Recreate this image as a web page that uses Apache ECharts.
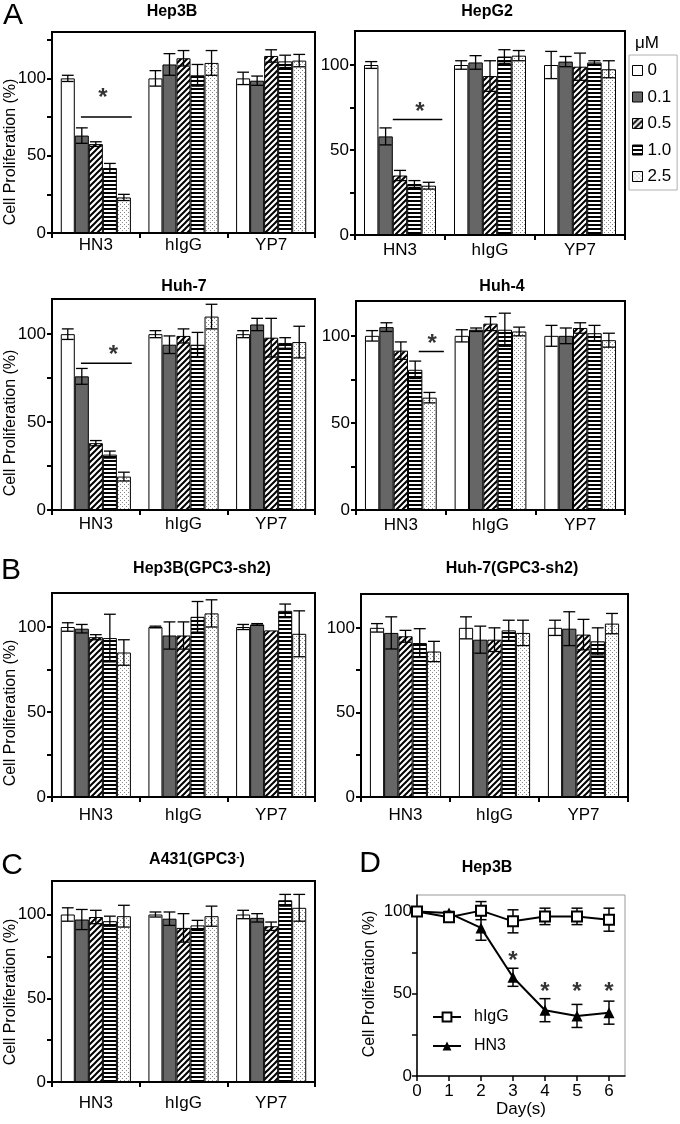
<!DOCTYPE html>
<html><head><meta charset="utf-8">
<script src="https://cdn.jsdelivr.net/npm/echarts@6/dist/echarts.min.js"></script>
<style>html,body{margin:0;padding:0;background:#fff}#c{width:680px;height:1124px}</style>
</head><body><div id="c"></div>
<script>
// ---------- DATA ----------
const categories = ['HN3', 'hIgG', 'YP7'];
const doses = ['0', '0.1', '0.5', '1.0', '2.5'];
// rows: HN3, hIgG, YP7 ; columns: doses
const hep3bMean = [[100, 63, 57.5, 42, 23], [100, 109, 113, 102, 110], [100, 98.5, 114.5, 111, 111.5]];
const hep3bErr  = [[2, 5, 1.5, 3, 2], [5, 7, 5, 7, 8], [4, 3, 4, 4, 4]];
const hepg2Mean = [[100, 58, 35, 30, 29], [100, 101.5, 93.5, 105, 105.5], [100, 102, 99, 101.5, 97.5]];
const hepg2Err  = [[2, 5, 3, 2, 2], [2.5, 4, 9, 4, 3], [8, 3, 8, 1, 5]];
const huh7Mean  = [[100, 76, 38, 31.5, 19], [100, 94, 99, 94, 110], [100, 105.5, 98, 95, 95.5]];
const huh7Err   = [[3, 4.5, 1.5, 2, 2.5], [2, 5, 4, 7, 7], [2, 3.5, 11, 3, 9]];
const huh4Mean  = [[100, 105, 91.5, 80.5, 64.5], [100, 103.5, 107, 103.5, 102.5], [100, 100, 104.5, 101.5, 97.5]];
const huh4Err   = [[3, 2.5, 5, 5, 3], [3.5, 1, 4, 9.5, 2.5], [6, 4.5, 3, 4.5, 4]];
const hep3bShMean = [[100, 99, 94, 93.5, 85], [100, 95, 95, 106, 108], [100, 101.5, 98, 109.5, 96]];
const hep3bShErr  = [[2.5, 2.5, 1.5, 14, 7.5], [0.5, 8, 8, 9, 8], [1.5, 0.5, 0, 4, 13.5]];
const huh7ShMean  = [[100, 97, 95, 91, 86], [100, 93, 93, 98.5, 97], [100, 99.5, 96, 92, 102.5]];
const huh7ShErr   = [[2.5, 9.5, 3.5, 8.5, 6], [6.5, 8, 7, 6, 7.5], [4.5, 10, 9, 8, 6]];
const a431Mean = [[100, 97, 98.5, 96, 99], [100, 97.5, 92, 93.5, 99], [100, 98, 93, 108.5, 104]];
const a431Err  = [[4, 6, 4, 3, 6.5], [1.5, 4, 8.5, 3, 6], [2.5, 2.5, 2.5, 3.5, 8]];
// significance annotations (category units 0..3 on x, % on y): [x1, x2, y, starX, starY]
const sigHep3b = [0.33, 0.91, 75, 0.58, 90];
const sigHepg2 = [0.42, 0.97, 68, 0.72, 75];
const sigHuh7  = [0.33, 0.91, 83.5, 0.70, 91];
const sigHuh4  = [0.70, 0.98, 91, 0.85, 98];
// panel D
const days = [0, 1, 2, 3, 4, 5, 6];
const higgMean = [100, 96.5, 100.5, 94, 97, 97, 95];
const higgErr  = [1, 3, 5.5, 7, 5, 5, 7];
const hn3Mean  = [100, 99, 90, 60, 40, 36.5, 38.5];
const hn3Err   = [1, 1, 7.5, 5.5, 7, 7, 7];
const dStarDays = [3, 4, 5, 6];
const dStarY = [73, 54, 54, 54];
const yTicks = [0, 25, 50, 75, 100, 125];
const yLabels = [0, 50, 100];

// ---------- STYLE ----------
const FONT = '"Liberation Sans", Arial, Helvetica, sans-serif';
function pattern(kind) {
  const c = document.createElement('canvas');
  const ctx = c.getContext('2d');
  if (kind === 'diag') {
    c.width = 6; c.height = 6;
    ctx.fillStyle = '#fff'; ctx.fillRect(0, 0, 6, 6);
    ctx.strokeStyle = '#000'; ctx.lineWidth = 2;
    ctx.beginPath();
    ctx.moveTo(-1, 7); ctx.lineTo(7, -1);
    ctx.moveTo(-1, 1); ctx.lineTo(1, -1);
    ctx.moveTo(5, 7); ctx.lineTo(7, 5);
    ctx.stroke();
  } else if (kind === 'horiz') {
    c.width = 4; c.height = 4;
    ctx.fillStyle = '#fff'; ctx.fillRect(0, 0, 4, 4);
    ctx.fillStyle = '#000'; ctx.fillRect(0, 0, 4, 2);
  } else {
    c.width = 4; c.height = 4;
    ctx.fillStyle = '#fff'; ctx.fillRect(0, 0, 4, 4);
    ctx.fillStyle = '#888'; ctx.fillRect(0, 0, 1, 1); ctx.fillRect(2, 2, 1, 1);
  }
  return { image: c, repeat: 'repeat' };
}
const fills = ['#ffffff', '#666666', pattern('diag'), pattern('horiz'), pattern('dots')];

const panels = [
  { mean: hep3bMean, err: hep3bErr, sig: sigHep3b, max: 130, l: 52, t: 32, w: 263, h: 201, lm: 4 },
  { mean: hepg2Mean, err: hepg2Err, sig: sigHepg2, max: 120, l: 355, t: 31, w: 270, h: 204, lm: 7 },
  { mean: huh7Mean, err: huh7Err, sig: sigHuh7, max: 120, l: 52, t: 299, w: 263, h: 211, lm: 6 },
  { mean: huh4Mean, err: huh4Err, sig: sigHuh4, max: 120, l: 356, t: 301, w: 269, h: 209, lm: 7 },
  { mean: hep3bShMean, err: hep3bShErr, sig: null, max: 120, l: 52, t: 593, w: 263, h: 204, lm: 10 },
  { mean: huh7ShMean, err: huh7ShErr, sig: null, max: 120, l: 361, t: 594, w: 267, h: 203, lm: 10 },
  { mean: a431Mean, err: a431Err, sig: null, max: 120, l: 52, t: 881, w: 263, h: 201, lm: 13 }
];

function errRender(params, api) {
  const c = api.value(0), s = api.value(1), m = api.value(2), e = api.value(3);
  const cw = api.size([1, 0])[0];
  const bw = cw * 0.8 / 5;
  const cx = api.coord([c, m])[0] + (s - 2) * bw;
  const yt = api.coord([c, m + e])[1], yb = api.coord([c, m - e])[1];
  const hw = bw * 0.42;
  const st = { stroke: '#000', lineWidth: 1.3 };
  return { type: 'group', children: [
    { type: 'line', shape: { x1: cx, y1: yt, x2: cx, y2: yb }, style: st },
    { type: 'line', shape: { x1: cx - hw, y1: yt, x2: cx + hw, y2: yt }, style: st },
    { type: 'line', shape: { x1: cx - hw, y1: yb, x2: cx + hw, y2: yb }, style: st }
  ]};
}
function errRenderD(params, api) {
  const x = api.value(0), m = api.value(1), e = api.value(2);
  const cx = api.coord([x, m])[0];
  const yt = api.coord([x, m + e])[1], yb = api.coord([x, m - e])[1];
  const hw = 5.5;
  const st = { stroke: '#000', lineWidth: 1.5 };
  return { type: 'group', children: [
    { type: 'line', shape: { x1: cx, y1: yt, x2: cx, y2: yb }, style: st },
    { type: 'line', shape: { x1: cx - hw, y1: yt, x2: cx + hw, y2: yt }, style: st },
    { type: 'line', shape: { x1: cx - hw, y1: yb, x2: cx + hw, y2: yb }, style: st }
  ]};
}

const grid = [], xAxis = [], yAxis = [], series = [];
const black = { color: '#000', width: 2 };
panels.forEach((p, i) => {
  grid.push({ left: p.l, top: p.t, width: p.w, height: p.h, show: true, borderColor: '#000', borderWidth: 2, backgroundColor: 'transparent' });
  xAxis.push({ type: 'category', gridIndex: i, data: categories,
    axisLine: { show: true, lineStyle: black },
    axisTick: { show: true, length: 5, lineStyle: black },
    axisLabel: { margin: p.lm, fontSize: 17, color: '#000', fontFamily: FONT } });
  xAxis.push({ type: 'value', gridIndex: i, min: 0, max: 3, show: false });
  yAxis.push({ type: 'value', gridIndex: i, min: 0, max: p.max, interval: 25,
    axisLine: { show: true, lineStyle: black },
    axisTick: { show: true, length: 5, lineStyle: black, customValues: yTicks.filter(v => v <= p.max) },
    axisLabel: { show: true, margin: 6, fontSize: 17, color: '#000', fontFamily: FONT, customValues: yLabels,
      formatter: v => (v % 50 === 0 ? String(v) : '') },
    splitLine: { show: false } });
  doses.forEach((d, s) => {
    series.push({ type: 'bar', name: d, xAxisIndex: 2 * i, yAxisIndex: i,
      data: p.mean.map(r => r[s]), barGap: '0%', barCategoryGap: '20%',
      itemStyle: { color: fills[s], borderColor: '#000', borderWidth: 1 },
      emphasis: { disabled: true }, z: 2 });
  });
  const ed = [];
  p.mean.forEach((row, c) => row.forEach((m, s) => { if (p.err[c][s] > 0) ed.push([c, s, m, p.err[c][s]]); }));
  series.push({ type: 'custom', xAxisIndex: 2 * i, yAxisIndex: i, renderItem: errRender,
    encode: { x: 0, y: 2 }, data: ed, z: 5, silent: true });
  if (p.sig) {
    series.push({ type: 'line', xAxisIndex: 2 * i + 1, yAxisIndex: i, symbol: 'none',
      data: [[p.sig[0], p.sig[2]], [p.sig[1], p.sig[2]]],
      lineStyle: { color: '#000', width: 1.5 }, z: 6, silent: true });
    series.push({ type: 'scatter', xAxisIndex: 2 * i + 1, yAxisIndex: i, symbolSize: 1,
      itemStyle: { color: 'rgba(0,0,0,0)' }, data: [[p.sig[3], p.sig[4]]],
      label: { show: true, position: 'inside', formatter: '*', fontSize: 24, fontWeight: 'bold',
        color: '#000', fontFamily: FONT, offset: [0, 5] }, z: 6, silent: true });
  }
});

// Panel D
const gi = panels.length;
grid.push({ left: 417, top: 895, width: 208, height: 181, show: true, borderColor: '#999', borderWidth: 1 });
xAxis.push({ type: 'value', gridIndex: gi, min: 0, max: 6.5, interval: 1,
  name: 'Day(s)', nameLocation: 'middle', nameGap: 25,
  nameTextStyle: { fontSize: 17, color: '#000', fontFamily: FONT },
  axisLine: { show: true, lineStyle: { color: '#000', width: 1.5 } },
  axisTick: { show: true, length: 5, customValues: days, lineStyle: { color: '#000', width: 1.5 } },
  axisLabel: { customValues: days, margin: 7, fontSize: 17, color: '#000', fontFamily: FONT },
  splitLine: { show: false } });
yAxis.push({ type: 'value', gridIndex: gi, min: 0, max: 110, interval: 25,
  axisLine: { show: true, lineStyle: { color: '#000', width: 1.5 } },
  axisTick: { show: true, length: 5, customValues: [0, 25, 50, 75, 100], lineStyle: { color: '#000', width: 1.5 } },
  axisLabel: { customValues: yLabels, margin: 5, fontSize: 17, color: '#000', fontFamily: FONT,
    formatter: v => (v % 50 === 0 ? String(v) : '') },
  splitLine: { show: false } });
const dx = xAxis.length - 1;
series.push({ type: 'custom', xAxisIndex: dx, yAxisIndex: gi, renderItem: errRenderD, encode: { x: 0, y: 1 },
  data: days.map((d, k) => [d, higgMean[k], higgErr[k]]).concat(days.map((d, k) => [d, hn3Mean[k], hn3Err[k]])),
  z: 2, silent: true });
series.push({ type: 'line', name: 'hIgG', xAxisIndex: dx, yAxisIndex: gi,
  data: days.map((d, k) => [d, higgMean[k]]), symbol: 'rect', symbolSize: 10,
  itemStyle: { color: '#fff', borderColor: '#000', borderWidth: 2 },
  lineStyle: { color: '#000', width: 2 }, z: 4 });
series.push({ type: 'line', name: 'HN3', xAxisIndex: dx, yAxisIndex: gi,
  data: days.map((d, k) => [d, hn3Mean[k]]), symbol: 'triangle', symbolSize: 11,
  itemStyle: { color: '#000' }, lineStyle: { color: '#000', width: 2 }, z: 3 });
series.push({ type: 'scatter', xAxisIndex: dx, yAxisIndex: gi, symbolSize: 1,
  itemStyle: { color: 'rgba(0,0,0,0)' }, data: dStarDays.map((d, k) => [d, dStarY[k]]),
  label: { show: true, position: 'inside', formatter: '*', fontSize: 24, fontWeight: 'bold',
    color: '#000', fontFamily: FONT, offset: [0, 5] }, z: 6, silent: true });

// ---------- TEXT GRAPHICS ----------
const g = [];
function txt(text, x, y, size, weight, rot) {
  g.push({ type: 'text', x: x, y: y, rotation: rot || 0,
    style: { text: text, fontSize: size, fontWeight: weight || 'normal', fontFamily: FONT, fill: '#000',
      textAlign: 'center', textVerticalAlign: 'middle' } });
}
txt('A', 13, 16, 30); txt('B', 11, 571, 30); txt('C', 12, 866, 30); txt('D', 370, 864, 30);
txt('Hep3B', 172, 12, 16, 'bold'); txt('HepG2', 487, 12, 16, 'bold');
txt('Huh-7', 184, 287, 16, 'bold'); txt('Huh-4', 502, 287, 16, 'bold');
txt('Hep3B(GPC3-sh2)', 202, 569, 16, 'bold'); txt('Huh-7(GPC3-sh2)', 512, 569, 16, 'bold');
txt('Hep3B', 487, 868, 16, 'bold');
g.push({ type: 'text', x: 197, y: 860,
  style: { text: '{a|A431(GPC3}{s|-}{a|)}', textAlign: 'center', textVerticalAlign: 'middle',
    rich: { a: { fontSize: 16, fontWeight: 'bold', fontFamily: FONT, fill: '#000' },
            s: { fontSize: 10, fontWeight: 'bold', fontFamily: FONT, fill: '#000', verticalAlign: 'top', padding: [0, 0, 6, 0] } } } });
const yName = 'Cell Proliferation (%)';
txt(yName, 11, 152, 16, 'normal', Math.PI / 2);
txt(yName, 11, 423, 16, 'normal', Math.PI / 2);
txt(yName, 11, 713, 16, 'normal', Math.PI / 2);
txt(yName, 11, 992, 16, 'normal', Math.PI / 2);
txt(yName, 370, 984, 16, 'normal', Math.PI / 2);
txt('μM', 647, 43, 17);

const chart = echarts.init(document.getElementById('c'), null, { renderer: 'canvas' });
chart.setOption({
  animation: false,
  backgroundColor: '#fff',
  grid: grid, xAxis: xAxis, yAxis: yAxis, series: series, graphic: g,
  legend: [
    { data: doses, orient: 'vertical', left: 629, top: 55, padding: [7, 6, 5, 3],
      itemWidth: 10, itemHeight: 10, itemGap: 9.5, icon: 'rect', selectedMode: false,
      borderColor: '#b0b0b0', borderWidth: 1,
      itemStyle: { borderColor: '#000', borderWidth: 1 },
      textStyle: { fontSize: 17, color: '#000', fontFamily: FONT } },
    { data: ['hIgG', 'HN3'], orient: 'vertical', left: 427, top: 1004,
      itemWidth: 28, itemHeight: 11, itemGap: 13, selectedMode: false,
      textStyle: { fontSize: 16, color: '#000', fontFamily: FONT, padding: [0, 0, 0, 8] } }
  ]
});
</script></body></html>
